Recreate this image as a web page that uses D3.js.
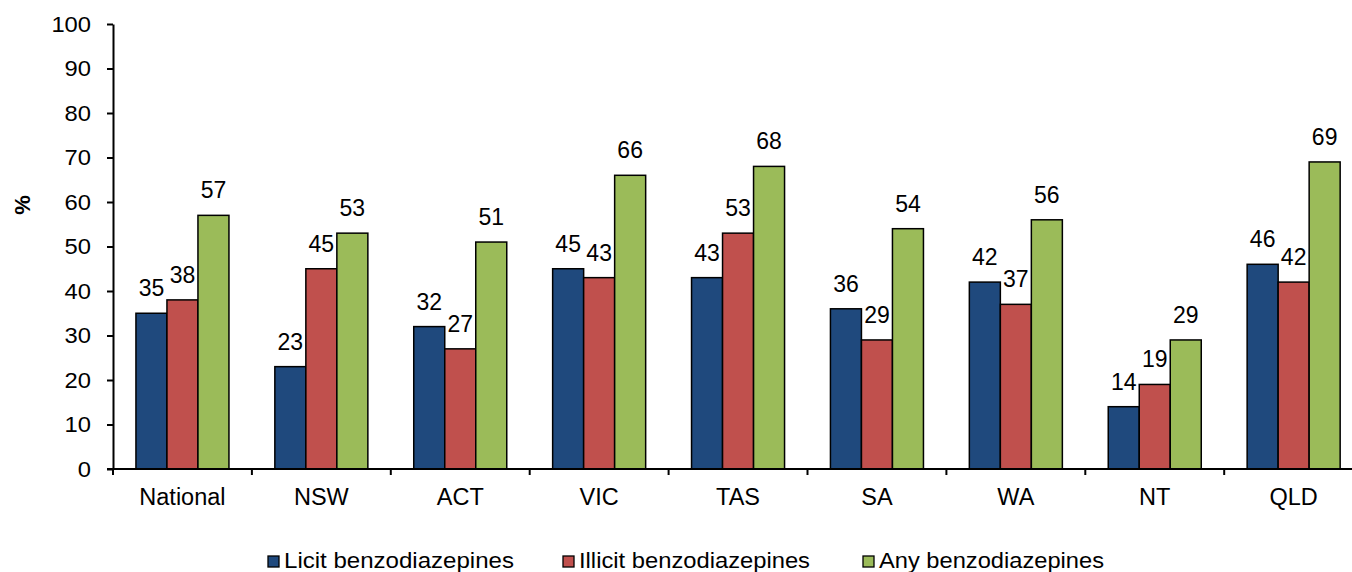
<!DOCTYPE html>
<html><head><meta charset="utf-8">
<script src="https://cdn.jsdelivr.net/npm/d3@7"></script>
<style>body{margin:0;background:#fff}svg{display:block;font-family:"Liberation Sans",Arial,sans-serif}</style>
</head><body><svg id="c" width="1352" height="572"></svg>
<script>
const categories = ["National","NSW","ACT","VIC","TAS","SA","WA","NT","QLD"];
const seriesNames = ["Licit benzodiazepines","Illicit benzodiazepines","Any benzodiazepines"];
const licit = [35,23,32,45,43,36,42,14,46];
const illicit = [38,45,27,43,53,29,37,19,42];
const anyB = [57,53,51,66,68,54,56,29,69];
const yTicks = [0,10,20,30,40,50,60,70,80,90,100];
const colors = ["#1F497D","#C0504D","#9BBB59"];

const seriesVals = [licit, illicit, anyB];
const svg = d3.select("#c");
const x0 = 113, xEnd = 113 + 9*138.9;
const x = d3.scaleBand().domain(categories).range([x0, xEnd]).padding(0);
const xs = d3.scaleBand().domain(seriesNames).range([0, x.bandwidth()]).paddingInner(0).paddingOuter(0.74);
const y = d3.scaleLinear().domain([0,100]).range([469, 24]);

// y axis
const ya = svg.append("g").attr("transform",`translate(${x0},0)`)
  .call(d3.axisLeft(y).tickValues(yTicks).tickSize(6).tickPadding(16).tickSizeOuter(0));
ya.select(".domain").attr("stroke","#000").attr("stroke-width",2);
ya.selectAll(".tick line").attr("stroke","#000").attr("stroke-width",2);
ya.selectAll(".tick text").attr("font-size",22).attr("fill","#000").attr("font-family","Liberation Sans, Arial, sans-serif")
  .attr("transform","scale(1.08,1)").attr("x", -22/1.08 * 0 - 22/1.08*0 - (6+16)/1.08);

// y title
svg.append("text").attr("transform","translate(30,205) rotate(-90)").attr("text-anchor","middle")
  .attr("font-size",22).attr("font-weight","bold").text("%");

// bars
categories.forEach((c,i)=>{
  seriesNames.forEach((s,j)=>{
    const v = seriesVals[j][i];
    svg.append("rect").attr("x", x(c)+xs(s)).attr("y", y(v)).attr("width", xs.bandwidth()).attr("height", y(0)-y(v))
      .attr("fill", colors[j]).attr("stroke","#000").attr("stroke-width",1.5);
    svg.append("text").attr("x", x(c)+xs(s)+xs.bandwidth()/2).attr("y", y(v)-17).attr("text-anchor","middle")
      .attr("font-size",23).text(v);
  });
});

// x axis
svg.append("line").attr("x1",x0-6).attr("x2",xEnd).attr("y1",y(0)).attr("y2",y(0)).attr("stroke","#000").attr("stroke-width",2);
categories.concat(["_end"]).forEach((c,i)=>{
  const px = c==="_end" ? xEnd : x(c);
  svg.append("line").attr("x1",px).attr("x2",px).attr("y1",y(0)).attr("y2",y(0)+6).attr("stroke","#000").attr("stroke-width",2);
});
categories.forEach(c=>{
  svg.append("text").attr("x", x(c)+x.bandwidth()/2).attr("y", 505).attr("text-anchor","middle").attr("font-size",23.5).text(c);
});

// legend
const legX = [268, 563, 863];
const legW = [230, 231, 225];
seriesNames.forEach((s,j)=>{
  svg.append("rect").attr("x",legX[j]).attr("y",556).attr("width",11).attr("height",11)
    .attr("fill",colors[j]).attr("stroke","#000").attr("stroke-width",1.3);
  svg.append("text").attr("x",legX[j]+16).attr("y",568).attr("font-size",21.5)
    .attr("textLength",legW[j]).attr("lengthAdjust","spacingAndGlyphs").text(s);
});
</script></body></html>
